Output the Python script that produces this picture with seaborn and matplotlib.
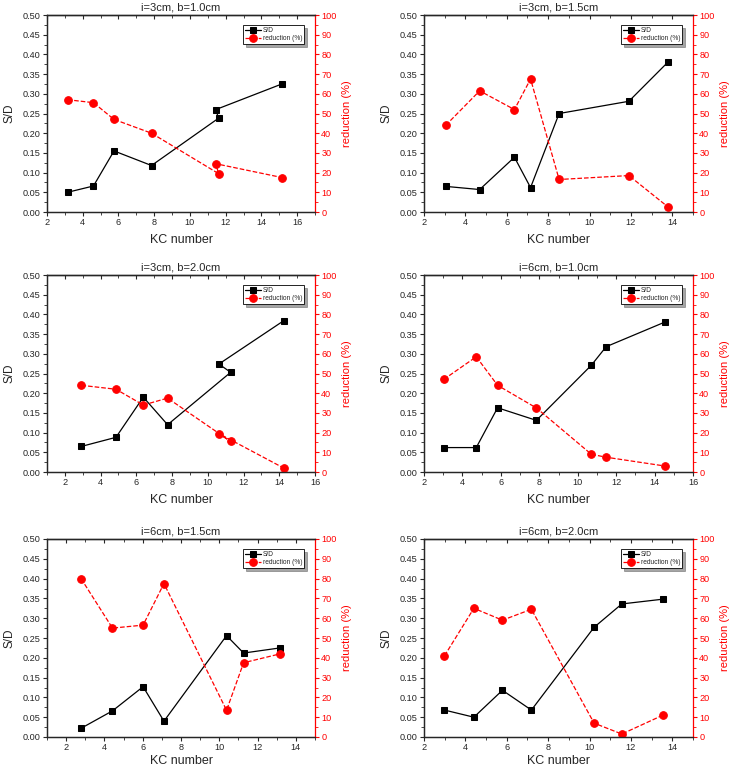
import numpy as np
import pandas as pd
import matplotlib
matplotlib.use('Agg')
import matplotlib.pyplot as plt
from matplotlib.ticker import MultipleLocator
import seaborn as sns

sns.set_style('ticks')
plt.rcParams['font.family'] = ['Liberation Sans', 'DejaVu Sans']

# Data (x order kept as drawn)
titles = ['i=3cm, b=1.0cm', 'i=3cm, b=1.5cm', 'i=3cm, b=2.0cm',
          'i=6cm, b=1.0cm', 'i=6cm, b=1.5cm', 'i=6cm, b=2.0cm']

kc_1 = [3.15, 4.6, 5.75, 7.85, 11.6, 11.45, 15.15]
sd_1 = [0.050, 0.066, 0.155, 0.118, 0.238, 0.260, 0.325]
red_1 = [57, 55.5, 47, 40, 19.5, 24.5, 17.5]

kc_2 = [3.05, 4.69, 6.37, 7.15, 8.53, 11.9, 13.8]
sd_2 = [0.065, 0.057, 0.139, 0.062, 0.250, 0.281, 0.381]
red_2 = [44, 61.5, 52, 67.5, 16.5, 18.5, 2.5]

kc_3 = [2.93, 4.86, 6.39, 7.75, 11.28, 10.62, 14.25]
sd_3 = [0.065, 0.088, 0.190, 0.120, 0.253, 0.274, 0.384]
red_3 = [44, 42, 34, 37.5, 15.5, 19.5, 2]

kc_4 = [3.03, 4.72, 5.83, 7.85, 10.71, 11.48, 14.56]
sd_4 = [0.062, 0.062, 0.163, 0.131, 0.271, 0.318, 0.381]
red_4 = [47, 58.5, 44, 32.5, 9, 7.5, 3]

kc_5 = [2.78, 4.42, 6.02, 7.11, 10.38, 11.27, 13.18]
sd_5 = [0.022, 0.066, 0.127, 0.040, 0.256, 0.212, 0.225]
red_5 = [80, 55, 56.5, 77.5, 13.5, 37.5, 42]

kc_6 = [2.99, 4.41, 5.79, 7.19, 10.22, 11.56, 13.54]
sd_6 = [0.068, 0.050, 0.118, 0.068, 0.277, 0.336, 0.348]
red_6 = [41, 65, 59, 64.5, 7, 1.5, 11]

kc_all = [kc_1, kc_2, kc_3, kc_4, kc_5, kc_6]
sd_all = [sd_1, sd_2, sd_3, sd_4, sd_5, sd_6]
red_all = [red_1, red_2, red_3, red_4, red_5, red_6]
xlims = [(2, 17), (2, 15), (1, 16), (2, 16), (1, 15), (2, 15)]

# axes placement in pixels (left, top, right, bottom)
W, H = 730, 767
boxes = [(47, 15, 315, 212), (424, 15, 693, 212),
         (47, 275, 315, 472), (424, 275, 693, 472),
         (47, 539, 315, 737), (424, 539, 693, 737)]

fig = plt.figure(figsize=(W / 100, H / 100), dpi=100)

for i in range(6):
    l, t, r, b = boxes[i]
    ax = fig.add_axes([l / W, 1 - b / H, (r - l) / W, (b - t) / H])
    ax2 = ax.twinx()

    df = pd.DataFrame({'KC': kc_all[i], 'SD': sd_all[i], 'red': red_all[i]})

    sns.lineplot(data=df, x='KC', y='SD', ax=ax, sort=False, color='black',
                 marker='s', markersize=4.8, markeredgecolor='black',
                 linewidth=0.9, label='S/D', legend=False)
    sns.lineplot(data=df, x='KC', y='red', ax=ax2, sort=False, color='red',
                 marker='o', markersize=5.5, markeredgecolor='red',
                 linewidth=0.9, linestyle='--', label='reduction (%)', legend=False)

    ax.set_xlim(*xlims[i])
    ax.set_ylim(0, 0.5)
    ax2.set_ylim(0, 100)

    ax.xaxis.set_major_locator(MultipleLocator(2))
    ax.xaxis.set_minor_locator(MultipleLocator(1))
    ax.yaxis.set_major_locator(MultipleLocator(0.05))
    ax.yaxis.set_minor_locator(MultipleLocator(0.025))
    ax2.yaxis.set_major_locator(MultipleLocator(10))
    ax2.yaxis.set_minor_locator(MultipleLocator(5))
    ax.yaxis.set_major_formatter(plt.FormatStrFormatter('%.2f'))

    ax.tick_params(axis='both', which='major', labelsize=6.6, length=3,
                   width=0.8, direction='out', right=False, pad=1.5)
    ax.tick_params(axis='both', which='minor', length=2, width=0.6,
                   direction='out', right=False)
    ax2.tick_params(axis='y', which='major', labelsize=6.6, length=3,
                    width=0.8, colors='red', pad=1.5)
    ax2.tick_params(axis='y', which='minor', length=2, width=0.6, colors='red')

    # top axis: ticks pointing inward, no labels
    top = ax.secondary_xaxis('top')
    top.xaxis.set_major_locator(MultipleLocator(2))
    top.xaxis.set_minor_locator(MultipleLocator(1))
    top.tick_params(which='major', direction='in', length=3, width=0.8,
                    labeltop=False)
    top.tick_params(which='minor', direction='in', length=2, width=0.6)
    top.spines['top'].set_linewidth(0.9)

    for s in ['left', 'bottom', 'top']:
        ax.spines[s].set_linewidth(0.9)
        ax2.spines[s].set_linewidth(0.9)
    ax2.spines['right'].set_color('red')
    ax2.spines['right'].set_linewidth(0.9)
    ax.spines['right'].set_visible(False)

    # bottom row sits close to the figure edge
    ax.set_xlabel('KC number', fontsize=9, labelpad=5 if i < 4 else 2)
    ax.set_ylabel('S/D', fontsize=8.5, labelpad=5)
    ax2.set_ylabel('reduction (%)', fontsize=8, color='red', labelpad=4)
    ax.set_title(titles[i], fontsize=8, pad=3)

    h1, l1 = ax.get_legend_handles_labels()
    h2, l2 = ax2.get_legend_handles_labels()
    leg = ax2.legend(h1 + h2, l1 + l2, loc='upper right',
                     bbox_to_anchor=(0.96, 0.95), fontsize=4.8,
                     frameon=True, fancybox=False, shadow=True,
                     edgecolor='black', borderpad=0.3, labelspacing=0.2,
                     handlelength=2.4, handletextpad=0.2, borderaxespad=0)
    leg.get_frame().set_linewidth(0.6)

fig.savefig('out.png', dpi=100)
